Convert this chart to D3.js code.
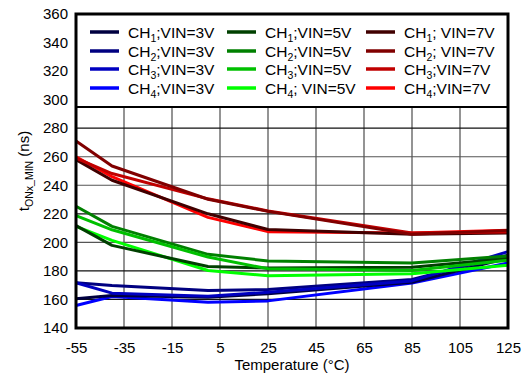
<!DOCTYPE html>
<html><head><meta charset="utf-8">
<script src="https://cdn.jsdelivr.net/npm/d3@7"></script>
<style>body{margin:0;background:#fff}text{font-family:"Liberation Sans",Arial,sans-serif}</style>
</head><body><svg id="c" width="523" height="376"></svg>
<script>
const temps = [-55, -40, 0, 25, 85, 125];
const xTicks = [-55, -35, -15, 5, 25, 45, 65, 85, 105, 125];
const yTicks = [140, 160, 180, 200, 220, 240, 260, 280, 300, 320, 340, 360];

const ch1_3V = [160.5, 162.8, 161.6, 164, 172, 189];
const ch2_3V = [171.7, 169.8, 166.3, 167, 174, 191];
const ch3_3V = [171.7, 164.4, 162.2, 165, 173, 193.5];
const ch4_3V = [155.8, 162.1, 158.1, 159, 171.5, 185.5];

const ch1_5V = [211.7, 197.9, 183.1, 182, 182.6, 188.7];
const ch2_5V = [225.3, 211.2, 191.6, 187, 185.5, 190.5];
const ch3_5V = [218.7, 208.8, 189.7, 181.5, 180.3, 187.4];
const ch4_5V = [211.2, 201.4, 180.3, 176.6, 178, 184];

const ch1_7V = [258, 243.5, 220, 209, 205.6, 206.5];
const ch2_7V = [271, 253.5, 230.2, 221.7, 205.6, 208.4];
const ch3_7V = [259, 248.2, 230.5, 222, 206.5, 207.2];
const ch4_7V = [260, 246, 217.5, 207.5, 206.5, 208.5];

const series = [
  {ch:"1", v:"3V", sep:";", data:ch1_3V, color:"#000040"},
  {ch:"2", v:"3V", sep:";", data:ch2_3V, color:"#000080"},
  {ch:"3", v:"3V", sep:";", data:ch3_3V, color:"#0000c0"},
  {ch:"4", v:"3V", sep:";", data:ch4_3V, color:"#0000ff"},
  {ch:"1", v:"5V", sep:";", data:ch1_5V, color:"#004000"},
  {ch:"2", v:"5V", sep:";", data:ch2_5V, color:"#008000"},
  {ch:"3", v:"5V", sep:";", data:ch3_5V, color:"#00c000"},
  {ch:"4", v:"5V", sep:"; ", data:ch4_5V, color:"#00ff00"},
  {ch:"1", v:"7V", sep:"; ", data:ch1_7V, color:"#400000"},
  {ch:"2", v:"7V", sep:"; ", data:ch2_7V, color:"#800000"},
  {ch:"3", v:"7V", sep:";", data:ch3_7V, color:"#c00000"},
  {ch:"4", v:"7V", sep:";", data:ch4_7V, color:"#ff0000"}
];

const svg = d3.select("#c");
const L = 76, R = 508, T = 14, B = 328;
const x = d3.scaleLinear().domain([-55, 125]).range([L, R]);
const y = d3.scaleLinear().domain([140, 360]).range([B, T]);

// grid
const g = svg.append("g");
g.selectAll(".vg").data(xTicks.slice(1, -1)).join("line")
  .attr("x1", d => x(d)).attr("x2", d => x(d)).attr("y1", T).attr("y2", B)
  .attr("stroke", "#707070").attr("stroke-width", 1.5);
const darkH = [160, 180, 220, 280];
g.selectAll(".hg").data(yTicks.slice(1, -1)).join("line")
  .attr("x1", L).attr("x2", R).attr("y1", d => y(d)).attr("y2", d => y(d))
  .attr("stroke", d => darkH.includes(d) ? "#111" : "#555").attr("stroke-width", 1.2);

// axes
const xa = svg.append("g").attr("transform", `translate(0,${B})`)
  .call(d3.axisBottom(x).tickValues(xTicks).tickSize(0).tickPadding(14).tickFormat(d => String(d)));
xa.select(".domain").remove();
xa.selectAll("text").attr("font-size", 15).attr("fill", "#000");
const ya = svg.append("g").attr("transform", `translate(${L},0)`)
  .call(d3.axisLeft(y).tickValues(yTicks).tickSize(0).tickPadding(8).tickFormat(d => String(d)));
ya.select(".domain").remove();
ya.selectAll("text").attr("font-size", 15).attr("fill", "#000");

// lines
const line = d3.line().x((d, i) => x(temps[i])).y(d => y(d));
const order = [3,0,1,2, 7,4,5,6, 11,8,10,9];
svg.append("g").selectAll("path").data(order.map(i => series[i])).join("path")
  .attr("d", d => line(d.data)).attr("fill", "none")
  .attr("stroke", d => d.color).attr("stroke-width", 3).attr("stroke-linejoin", "round");

// legend box
const LB = 107;
svg.append("rect").attr("x", L).attr("y", T).attr("width", R - L).attr("height", LB - T)
  .attr("fill", "#fff").attr("stroke", "#000").attr("stroke-width", 2);
const colX = [90, 227, 366];
const rowY = [32, 51, 69, 88];
const lg = svg.append("g");
series.forEach((s, i) => {
  const c = Math.floor(i / 4), r = i % 4;
  const lx = colX[c], ly = rowY[r];
  lg.append("line").attr("x1", lx).attr("x2", lx + 29).attr("y1", ly).attr("y2", ly)
    .attr("stroke", s.color).attr("stroke-width", 3.5);
  const t = lg.append("text").attr("x", lx + 38).attr("y", ly + 5.5).attr("font-size", 15.5).attr("fill", "#000");
  t.append("tspan").text("CH");
  t.append("tspan").attr("font-size", 10.5).attr("dy", 4).text(s.ch);
  t.append("tspan").attr("dy", -4).text(s.sep + "VIN=" + s.v);
});

// frame
svg.append("rect").attr("x", L).attr("y", T).attr("width", R - L).attr("height", B - T)
  .attr("fill", "none").attr("stroke", "#000").attr("stroke-width", 3);

// axis titles
svg.append("text").attr("x", 292).attr("y", 370).attr("text-anchor", "middle")
  .attr("font-size", 15).text("Temperature (°C)");
const yt = svg.append("text").attr("transform", "translate(29,171) rotate(-90)")
  .attr("text-anchor", "middle").attr("font-size", 15);
yt.append("tspan").text("t");
yt.append("tspan").attr("font-size", 10.5).attr("dy", 4).text("ONx_MIN");
yt.append("tspan").attr("dy", -4).text(" (ns)");
</script></body></html>
